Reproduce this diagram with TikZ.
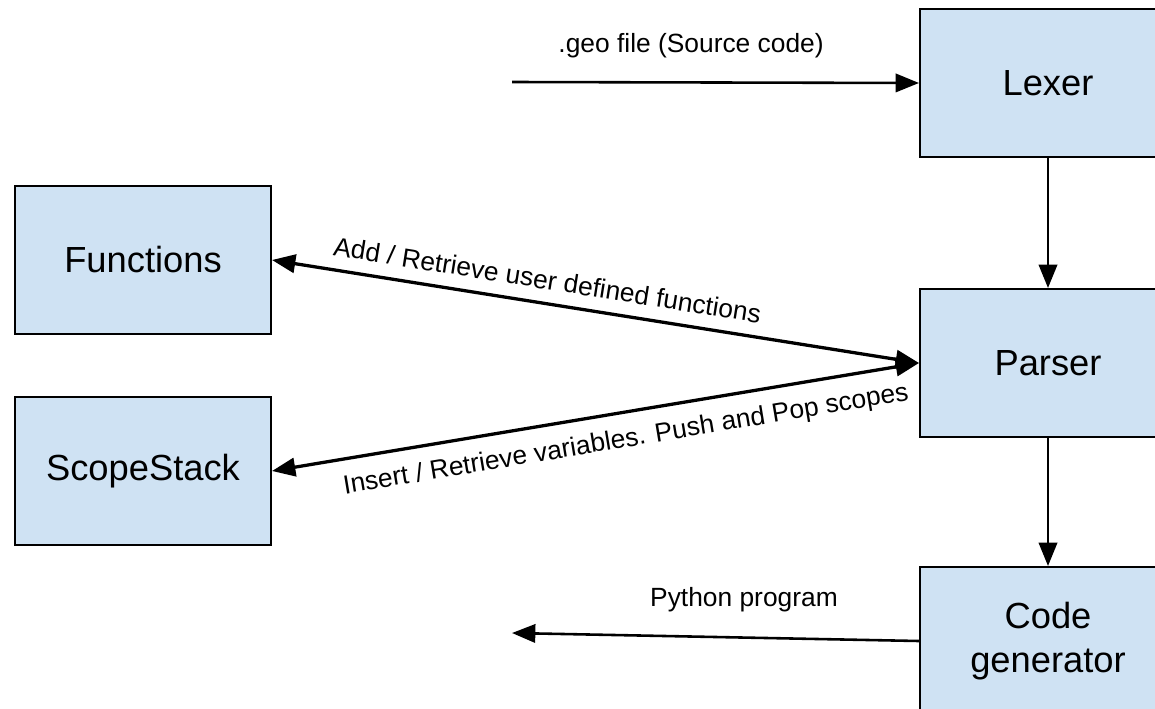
\documentclass[tikz,border=0pt]{standalone}
\usepackage{fontspec}
\setmainfont{Liberation Sans}
\usetikzlibrary{positioning,arrows.meta}

\definecolor{boxblue}{HTML}{CFE2F3}

\begin{document}
\begin{tikzpicture}[
    x=0.03cm, y=-0.03cm,
    box/.style={rectangle, draw, line width=1.7pt, fill=boxblue, minimum width=7.68cm, minimum height=4.44cm, align=center, font=\fontsize{31}{38}\selectfont},
    arrow/.style={-{Triangle[length=0.7cm, width=0.55cm]}, line width=2.2pt},
    twoway/.style={{Triangle[length=0.7cm, width=0.55cm]}-{Triangle[length=0.7cm, width=0.55cm]}, line width=2.8pt},
    label/.style={font=\fontsize{22.5}{27}\selectfont, inner sep=2pt},
]
\clip (0,0) rectangle (1155,709);
\fill[white] (0,0) rectangle (1155,709);

% Compiler pipeline (right column)
\node[box] (lexer) at (1048,83) {Lexer};
\node[box, below=3.9cm of lexer] (parser) {Parser};
\node[box, below=3.84cm of parser] (codegen) {Code\\generator};

% Tables used by the parser
\node[box] (functions) at (143,260) {Functions};
\node[box, below=1.83cm of functions] (scopestack) {ScopeStack};

% Input and output
\coordinate (source) at (512,82);
\coordinate (output) at (512,633);
\draw[arrow] (source) -- node[label, above=0.62cm, pos=0.44] {.geo file (Source code)} (lexer.west);
\draw[arrow] (codegen.west) -- node[label, above=0.65cm, pos=0.43] {Python program} (output);

% Pipeline
\draw[arrow] (lexer.south) -- (parser.north);
\draw[arrow] (parser.south) -- (codegen.north);

% Parser talks to the tables
\draw[twoway] (functions.east) -- node[label, sloped, above=0.3cm, pos=0.42] {Add / Retrieve user defined functions} (parser.west);
\draw[twoway] (scopestack.east) -- node[label, sloped, below=0.35cm, pos=0.54] {Insert / Retrieve variables. Push and Pop scopes} (parser.west);

\end{tikzpicture}
\end{document}
